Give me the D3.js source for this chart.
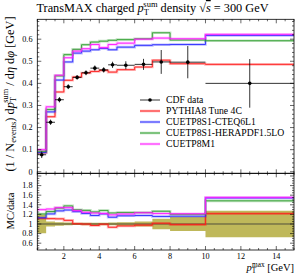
<!DOCTYPE html>
<html><head><meta charset="utf-8">
<script src="https://cdn.jsdelivr.net/npm/d3@7"></script>
<style>
body{margin:0;background:#fff;}
text{font-family:"Liberation Serif","DejaVu Serif",serif;fill:#000;}
</style></head><body>
<svg id="c" width="304" height="274"></svg>
<script>
const binEdges = [0.5,1,1.5,2,2.5,3,3.5,4,4.5,5,6,7,8,10,15];
const cdfData = [0.077,0.224,0.326,0.385,0.427,0.448,0.469,0.461,0.484,0.482,0.486,0.497,0.496,0.400];
const cdfErr  = [0.015,0.012,0.012,0.011,0.010,0.011,0.012,0.012,0.014,0.018,0.025,0.054,0.073,0.11];
const pythia4C = [0.086,0.249,0.361,0.414,0.429,0.447,0.454,0.459,0.451,0.462,0.474,0.505,0.489,0.486];
const cteq6l1  = [0.087,0.271,0.415,0.497,0.537,0.546,0.552,0.558,0.552,0.564,0.572,0.575,0.576,0.617];
const hera15lo = [0.093,0.282,0.434,0.530,0.554,0.575,0.587,0.591,0.595,0.598,0.602,0.629,0.596,0.593];
const cuetp8m1 = [0.100,0.294,0.437,0.516,0.546,0.557,0.576,0.562,0.576,0.582,0.600,0.605,0.602,0.622];
const legendLabels = ["CDF data","PYTHIA8 Tune 4C","CUETP8S1-CTEQ6L1","CUETP8S1-HERAPDF1.5LO","CUETP8M1"];
const mainTicks = [0,0.1,0.2,0.3,0.4,0.5,0.6];
const ratioTicks = [0.6,0.8,1.0,1.2,1.4,1.6,1.8];
const xTicks = [2,4,6,8,10,12,14];

const mcSeries = [
  {vals:pythia4C, color:"#ff1a1a", label:legendLabels[1]},
  {vals:cteq6l1,  color:"#2a2aff", label:legendLabels[2]},
  {vals:hera15lo, color:"#2e9e2e", label:legendLabels[3]},
  {vals:cuetp8m1, color:"#ff1aff", label:legendLabels[4]}
];

const L=37.3, R=294, T=19.3, MB=173.3, RB=250;
const x = d3.scaleLinear().domain([0.5,15]).range([L,R]);
const y = d3.scaleLinear().domain([-0.007,0.690]).range([MB,T]);
const yr = d3.scaleLinear().domain([0.458,2.056]).range([RB,MB]);

const svg = d3.select("#c");
const defs = svg.append("defs");
defs.append("clipPath").attr("id","cm").append("rect").attr("x",L).attr("y",T).attr("width",R-L).attr("height",MB-T);
defs.append("clipPath").attr("id","cr").append("rect").attr("x",L).attr("y",MB).attr("width",R-L).attr("height",RB-MB);

function stepPts(vals){
  const p = vals.map((v,i)=>[binEdges[i],v]);
  p.push([binEdges[binEdges.length-1], vals[vals.length-1]]);
  return p;
}
const gm = svg.append("g").attr("clip-path","url(#cm)");
const gr = svg.append("g").attr("clip-path","url(#cr)");

const band = binEdges.slice(0,-1).map((e,i)=>({x:e, lo:1-cdfErr[i]/cdfData[i], hi:1+cdfErr[i]/cdfData[i]}));
band.push({x:15, lo:band[band.length-1].lo, hi:band[band.length-1].hi});
gr.append("path").datum(band)
  .attr("d", d3.area().x(d=>x(d.x)).y0(d=>yr(d.lo)).y1(d=>yr(d.hi)).curve(d3.curveStepAfter))
  .attr("fill","#bfb85a").attr("stroke","none");
gr.append("line").attr("x1",L).attr("x2",R).attr("y1",yr(1)).attr("y2",yr(1)).attr("stroke","#333").attr("stroke-width",0.8);

mcSeries.forEach(s=>{
  const lm = d3.line().x(d=>x(d[0])).y(d=>y(d[1])).curve(d3.curveStepAfter);
  const pts = stepPts(s.vals);
  gm.append("path").attr("d",lm(pts)).attr("fill","none").attr("stroke",s.color).attr("stroke-opacity",0.3).attr("stroke-width",2.6);
  gm.append("path").attr("d",lm(pts)).attr("fill","none").attr("stroke",s.color).attr("stroke-width",0.9);
  const rv = s.vals.map((v,i)=>v/cdfData[i]);
  const lr = d3.line().x(d=>x(d[0])).y(d=>yr(d[1])).curve(d3.curveStepAfter);
  const rp = stepPts(rv);
  gr.append("path").attr("d",lr(rp)).attr("fill","none").attr("stroke",s.color).attr("stroke-opacity",0.3).attr("stroke-width",2.6);
  gr.append("path").attr("d",lr(rp)).attr("fill","none").attr("stroke",s.color).attr("stroke-width",0.9);
});

cdfData.forEach((v,i)=>{
  const xc = x((binEdges[i]+binEdges[i+1])/2);
  gm.append("line").attr("x1",x(binEdges[i])).attr("x2",x(binEdges[i+1])).attr("y1",y(v)).attr("y2",y(v)).attr("stroke","#000").attr("stroke-width",0.8);
  gm.append("line").attr("x1",xc).attr("x2",xc).attr("y1",y(v-cdfErr[i])).attr("y2",y(v+cdfErr[i])).attr("stroke","#000").attr("stroke-width",0.8);
  gm.append("circle").attr("cx",xc).attr("cy",y(v)).attr("r",1.8).attr("fill","#000");
});

const fr = svg.append("g").attr("fill","none").attr("stroke","#000").attr("stroke-width",0.8);
fr.append("rect").attr("x",L).attr("y",T).attr("width",R-L).attr("height",MB-T);
fr.append("rect").attr("x",L).attr("y",MB).attr("width",R-L).attr("height",RB-MB);

const tk = svg.append("g").attr("stroke","#000").attr("stroke-width",0.6);
function range(a,b,s){const r=[];for(let v=a;v<=b+1e-9;v+=s)r.push(+v.toFixed(4));return r;}
range(0.5,15,0.5).forEach(v=>{
  const major = xTicks.includes(v);
  const len = major?4:2;
  [[T,1],[MB,-1],[MB,1],[RB,-1]].forEach(([yy,dir])=>{
    tk.append("line").attr("x1",x(v)).attr("x2",x(v)).attr("y1",yy).attr("y2",yy+dir*len);
  });
});
range(0,0.68,0.02).forEach(v=>{
  const major = mainTicks.some(t=>Math.abs(t-v)<1e-6);
  const len = major?4:2;
  tk.append("line").attr("x1",L).attr("x2",L+len).attr("y1",y(v)).attr("y2",y(v));
  tk.append("line").attr("x1",R).attr("x2",R-len).attr("y1",y(v)).attr("y2",y(v));
});
range(0.5,2.05,0.05).forEach(v=>{
  const major = Math.abs(Math.round(v*5)-v*5)<1e-6;
  const len = major?4:2;
  tk.append("line").attr("x1",L).attr("x2",L+len).attr("y1",yr(v)).attr("y2",yr(v));
  tk.append("line").attr("x1",R).attr("x2",R-len).attr("y1",yr(v)).attr("y2",yr(v));
});

const fs = 8.2;
mainTicks.forEach(v=>{
  svg.append("text").attr("x",32.5).attr("y",y(v)+2.8).attr("text-anchor","end").attr("font-size",fs).text(v===0?"0":v.toFixed(1));
});
ratioTicks.forEach(v=>{
  svg.append("text").attr("x",32.5).attr("y",yr(v)+2.8).attr("text-anchor","end").attr("font-size",fs).text(Math.abs(v-1)<1e-6?"1":v.toFixed(1));
});
xTicks.forEach(v=>{
  svg.append("text").attr("x",x(v)).attr("y",258.5).attr("text-anchor","middle").attr("font-size",fs).text(v);
});

const tt = svg.append("text").attr("x",152.5).attr("y",12).attr("text-anchor","middle").attr("font-size",12.3);
tt.append("tspan").text("TransMAX charged ");
tt.append("tspan").attr("font-style","italic").text("p");
tt.append("tspan").attr("font-size",8.5).attr("dy",2.5).text("T");
tt.append("tspan").attr("font-size",8.5).attr("dx",-5).attr("dy",-7.5).text("sum");
tt.append("tspan").attr("dy",5).text(" density ");
tt.append("tspan").text("√");
tt.append("tspan").attr("font-style","italic").attr("text-decoration","overline").text("s");
tt.append("tspan").text(" = 300 GeV");

const yl = svg.append("text").attr("transform","translate(13.5,94) rotate(-90)").attr("text-anchor","middle").attr("font-size",12.3);
yl.append("tspan").text("(1 / N");
yl.append("tspan").attr("font-size",8.3).attr("dy",2).text("events");
yl.append("tspan").attr("dy",-2).text(") d");
yl.append("tspan").attr("font-style","italic").text("p");
yl.append("tspan").attr("font-size",8.3).attr("dy",2.5).text("T");
yl.append("tspan").attr("font-size",8.3).attr("dx",-5).attr("dy",-8).text("sum");
yl.append("tspan").attr("dy",5.5).text(" / d");
yl.append("tspan").attr("font-style","italic").text("η");
yl.append("tspan").text(" d");
yl.append("tspan").attr("font-style","italic").text("φ");
yl.append("tspan").text(" [GeV]");

svg.append("text").attr("transform","translate(14,211) rotate(-90)").attr("text-anchor","middle").attr("font-size",10.5).text("MC/data");

const xl = svg.append("text").attr("x",294).attr("y",271).attr("text-anchor","end").attr("font-size",10.5);
xl.append("tspan").attr("font-style","italic").text("p");
xl.append("tspan").attr("font-size",7.3).attr("dy",2.2).text("T");
xl.append("tspan").attr("font-size",7.3).attr("dx",-4.3).attr("dy",-6.2).text("max");
xl.append("tspan").attr("dy",4).text(" [GeV]");

const lfs = 9.7;
const lg = svg.append("g");
const rowY = i=>100+i*11;
lg.append("line").attr("x1",140).attr("x2",160).attr("y1",rowY(0)).attr("y2",rowY(0)).attr("stroke","#000").attr("stroke-width",0.8);
lg.append("circle").attr("cx",150).attr("cy",rowY(0)).attr("r",1.8).attr("fill","#000");
lg.append("text").attr("x",166).attr("y",rowY(0)+3.3).attr("font-size",lfs).text(legendLabels[0]);
mcSeries.forEach((s,i)=>{
  const yy = rowY(i+1);
  lg.append("line").attr("x1",140).attr("x2",160).attr("y1",yy).attr("y2",yy).attr("stroke",s.color).attr("stroke-opacity",0.3).attr("stroke-width",2.6);
  lg.append("line").attr("x1",140).attr("x2",160).attr("y1",yy).attr("y2",yy).attr("stroke",s.color).attr("stroke-width",0.9);
  lg.append("text").attr("x",166).attr("y",yy+3.3).attr("font-size",lfs).text(s.label);
});
</script></body></html>
